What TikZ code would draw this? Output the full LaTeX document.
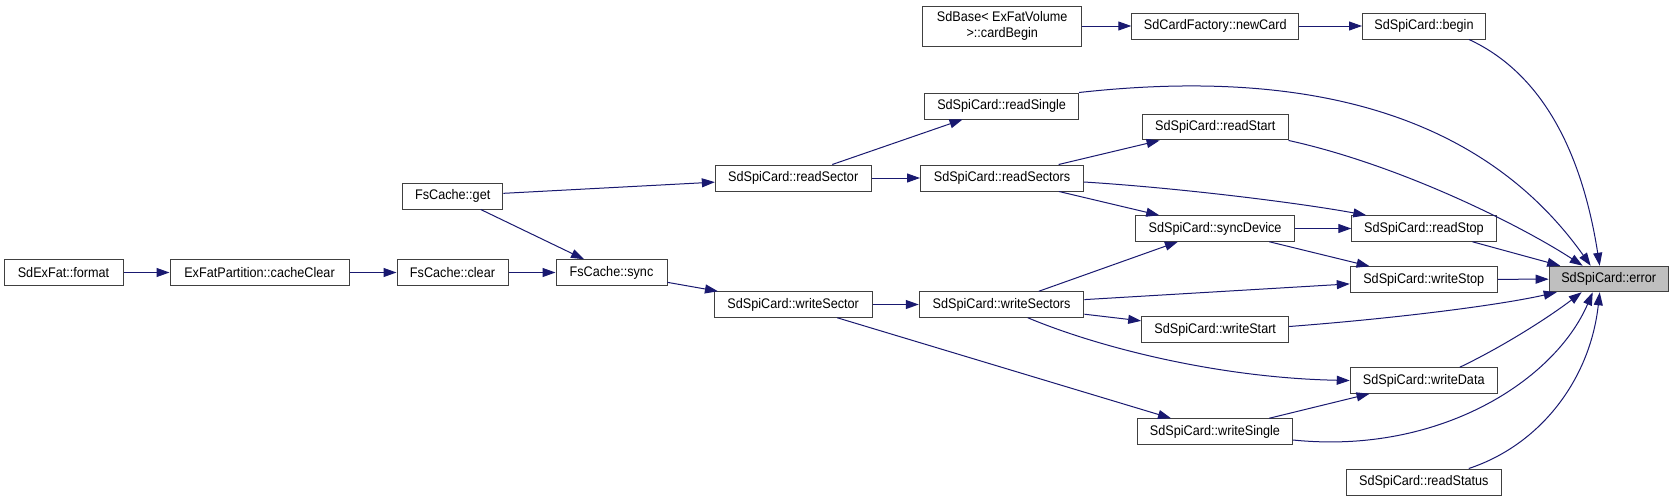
\documentclass[tikz,border=0pt]{standalone}
\usepackage{fontspec}
\setmainfont{Liberation Sans}[FakeStretch=0.91]
\usetikzlibrary{arrows.meta,calc}
\definecolor{edgeblue}{RGB}{25,25,112}
\definecolor{boxline}{RGB}{64,64,64}
\definecolor{hilite}{RGB}{191,191,191}
\begin{document}
\begin{tikzpicture}[x=1pt,y=-1pt,
  box/.style={draw=boxline, line width=1pt, fill=white, inner sep=0pt,
    font=\fontsize{13.9}{15.4}\selectfont, text=black, align=center, minimum height=25.5},
  edge/.style={draw=edgeblue, line width=1pt, -{Triangle[length=13pt,width=9pt]}}]
\useasboundingbox (0,0) rectangle (1673,501);
\fill[white] (0,0) rectangle (1673,501);
% nodes
\node[box, minimum width=119] (format) at (63.5,272.5) {SdExFat::format};
\node[box, minimum width=179] (cacheClear) at (259.5,272.5) {ExFatPartition::cacheClear};
\node[box, minimum width=111] (clear) at (452.5,272.5) {FsCache::clear};
\node[box, minimum width=100.5, minimum height=26] (get) at (452.7,196) {FsCache::get};
\node[box, minimum width=111] (sync) at (611.5,272.5) {FsCache::sync};
\node[box, minimum width=159.5, minimum height=40] (cardBegin) at (1002.2,26) {SdBase\textless{} ExFatVolume\\\textgreater::cardBegin};
\node[box, minimum width=154, minimum height=26] (readSingle) at (1001.6,106) {SdSpiCard::readSingle};
\node[box, minimum width=155.7, minimum height=26] (readSector) at (793.2,178) {SdSpiCard::readSector};
\node[box, minimum width=163, minimum height=26] (readSectors) at (1002,178) {SdSpiCard::readSectors};
\node[box, minimum width=157.8] (writeSector) at (793.2,304.5) {SdSpiCard::writeSector};
\node[box, minimum width=164.7] (writeSectors) at (1001.6,304.5) {SdSpiCard::writeSectors};
\node[box, minimum width=167, minimum height=26] (newCard) at (1215.3,26) {SdCardFactory::newCard};
\node[box, minimum width=123, minimum height=26] (begin) at (1424,26) {SdSpiCard::begin};
\node[box, minimum width=145.6] (readStart) at (1215.2,127.2) {SdSpiCard::readStart};
\node[box, minimum width=159.4] (syncDevice) at (1215.1,228.5) {SdSpiCard::syncDevice};
\node[box, minimum width=144.2] (readStop) at (1423.9,228.5) {SdSpiCard::readStop};
\node[box, minimum width=147] (writeStop) at (1423.75,279.5) {SdSpiCard::writeStop};
\node[box, minimum width=119, fill=hilite] (error) at (1608.7,279) {SdSpiCard::error};
\node[box, minimum width=147] (writeStart) at (1215.2,329.5) {SdSpiCard::writeStart};
\node[box, minimum width=147] (writeData) at (1423.75,380.5) {SdSpiCard::writeData};
\node[box, minimum width=155] (writeSingle) at (1215,431.5) {SdSpiCard::writeSingle};
\node[box, minimum width=155, minimum height=26] (readStatus) at (1423.75,482) {SdSpiCard::readStatus};
% straight edges
\draw[edge] (format) -- (cacheClear);
\draw[edge] (cacheClear) -- (clear);
\draw[edge] (clear) -- (sync);
\draw[edge] (get) -- (sync);
\draw[edge] (get) -- (readSector);
\draw[edge] (sync) -- (writeSector);
\draw[edge] (readSector) -- (readSingle);
\draw[edge] (readSector) -- (readSectors);
\draw[edge] (writeSector) -- (writeSectors);
\draw[edge] (writeSector) -- (writeSingle);
\draw[edge] (cardBegin) -- (newCard);
\draw[edge] (newCard) -- (begin);
\draw[edge] (readSectors) -- (readStart);
\draw[edge] (readSectors) -- (syncDevice);
\draw[edge] (syncDevice) -- (readStop);
\draw[edge] (syncDevice) -- (writeStop);
\draw[edge] (writeSectors) -- (syncDevice);
\draw[edge] (writeSectors) -- (writeStop);
\draw[edge] (writeSectors) -- (writeStart);
\draw[edge] (writeSingle) -- (writeData);
\draw[edge] (readStop) -- (error);
\draw[edge] (writeStop) -- (error);
% curved edges
\draw[edge] ($(readSectors.east)+(0,4)$) .. controls (1180,188) and (1300,203) .. ($(readStop.north west)+(15,0)$);
\draw[edge] ($(writeSectors.south west)+(109,0)$) .. controls (1100,348) and (1220,378) .. (writeData.west);
\draw[edge] ($(begin.south west)+(107,0)$) .. controls (1535,70) and (1580,140) .. ($(error.north west)+(51,0)$);
\draw[edge] (readSingle.north east) .. controls (1300,68) and (1480,110) .. ($(error.north west)+(42,0)$);
\draw[edge] (readStart.south east) .. controls (1400,165) and (1520,225) .. ($(error.north west)+(34,0)$);
\draw[edge] ($(writeStart.east)+(0,-3)$) .. controls (1400,318) and (1500,305) .. ($(error.south west)+(8,0)$);
\draw[edge] ($(writeData.north west)+(110,0)$) .. controls (1500,348) and (1545,320) .. ($(error.south west)+(33,0)$);
\draw[edge] ($(writeSingle.east)+(0,8.5)$) .. controls (1440,455) and (1555,380) .. ($(error.south west)+(44,0)$);
\draw[edge] ($(readStatus.north west)+(123,0)$) .. controls (1540,445) and (1590,380) .. ($(error.south west)+(51,0)$);
\end{tikzpicture}
\end{document}
